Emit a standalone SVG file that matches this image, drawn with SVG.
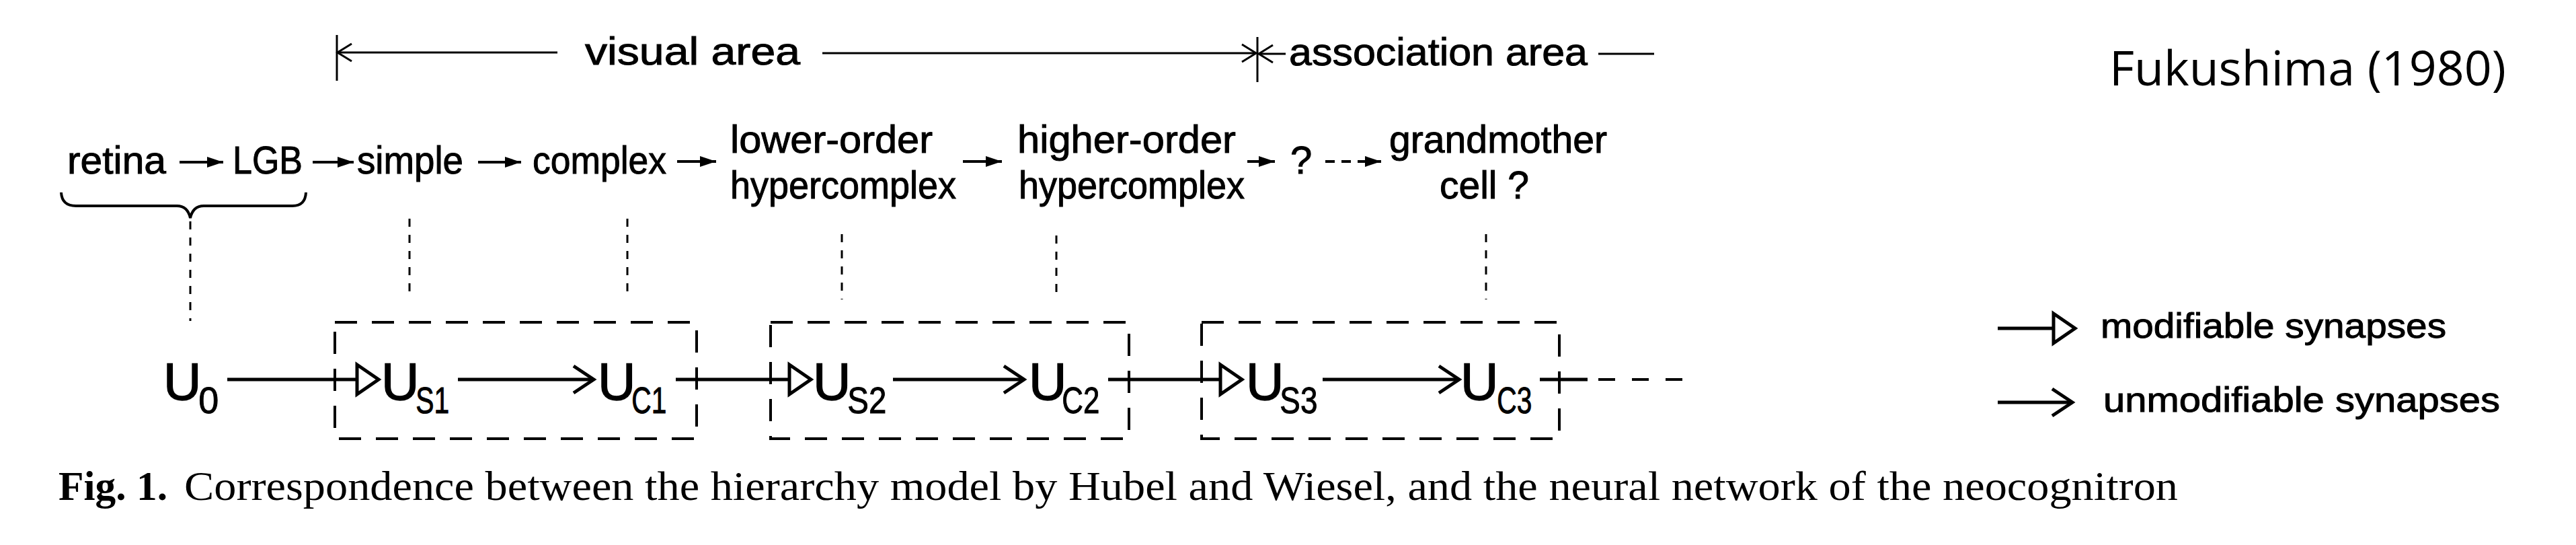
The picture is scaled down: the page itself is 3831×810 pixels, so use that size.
<svg xmlns="http://www.w3.org/2000/svg" width="3831" height="810" viewBox="0 0 3831 810">
<style>
.lbl{font-family:"Liberation Sans",Arial,sans-serif;font-size:58px;fill:#000;stroke:#000;stroke-width:1}
.leg{font-family:"Liberation Sans",Arial,sans-serif;font-size:52px;fill:#000;stroke:#000;stroke-width:1}
.u{font-family:"Liberation Sans",Arial,sans-serif;font-size:78px;fill:#000;stroke:#000;stroke-width:1.5}
.sub{font-size:56px;stroke-width:1}
.cap{font-family:"Liberation Serif","Times New Roman",serif;font-size:62px;fill:#000}
.title{font-family:"Open Sans","Liberation Sans",sans-serif;font-size:72px;fill:#000}
.box{fill:none;stroke:#000;stroke-width:4;stroke-dasharray:33 22}
.dot{fill:none;stroke:#000;stroke-width:3;stroke-dasharray:12 12}
.thin{fill:none;stroke:#000;stroke-width:3}
.small{fill:none;stroke:#000;stroke-width:4}
.main{fill:none;stroke:#000;stroke-width:5}
</style>
<defs>
<marker id="fill" markerUnits="userSpaceOnUse" markerWidth="26" markerHeight="18" refX="24" refY="9" orient="auto" viewBox="0 0 26 18">
<path d="M0,1 L24,9 L0,17 Z" fill="#000"/>
</marker>
<marker id="tri" markerUnits="userSpaceOnUse" markerWidth="44" markerHeight="54" refX="36" refY="27" orient="auto" viewBox="0 0 44 54">
<path d="M4,5 L36,27 L4,49 Z" fill="#fff" stroke="#000" stroke-width="5" stroke-linejoin="miter"/>
</marker>
<marker id="chev" markerUnits="userSpaceOnUse" markerWidth="40" markerHeight="50" refX="34" refY="25" orient="auto" viewBox="0 0 40 50">
<path d="M4,5 L34,25 L4,45" fill="none" stroke="#000" stroke-width="5"/>
</marker>
<marker id="vee" markerUnits="userSpaceOnUse" markerWidth="28" markerHeight="32" refX="24" refY="16" orient="auto" viewBox="0 0 28 32">
<path d="M3,3 L24,16 L3,29" fill="none" stroke="#000" stroke-width="3"/>
</marker>
</defs>
<rect width="3831" height="810" fill="#fff"/>

<g id="title"><text class="title" x="3137" y="127" textLength="590" lengthAdjust="spacingAndGlyphs">Fukushima (1980)</text></g>

<g id="area-labels">
<text class="lbl" x="870" y="96" textLength="320" lengthAdjust="spacingAndGlyphs">visual area</text>
<text class="lbl" x="1917" y="97" textLength="444" lengthAdjust="spacingAndGlyphs">association area</text>
</g>

<g id="node-retina"><text class="lbl" x="100" y="258" textLength="147" lengthAdjust="spacingAndGlyphs">retina</text></g>
<g id="node-lgb"><text class="lbl" x="346" y="258" textLength="104" lengthAdjust="spacingAndGlyphs">LGB</text></g>
<g id="node-simple"><text class="lbl" x="531" y="258" textLength="158" lengthAdjust="spacingAndGlyphs">simple</text></g>
<g id="node-complex"><text class="lbl" x="792" y="258" textLength="199" lengthAdjust="spacingAndGlyphs">complex</text></g>
<g id="node-lower"><text class="lbl" x="1086" y="227" textLength="301" lengthAdjust="spacingAndGlyphs">lower-order</text><text class="lbl" x="1086" y="295" textLength="336" lengthAdjust="spacingAndGlyphs">hypercomplex</text></g>
<g id="node-higher"><text class="lbl" x="1513" y="227" textLength="325" lengthAdjust="spacingAndGlyphs">higher-order</text><text class="lbl" x="1515" y="295" textLength="336" lengthAdjust="spacingAndGlyphs">hypercomplex</text></g>
<g id="node-q"><text class="lbl" x="1919" y="258">?</text></g>
<g id="node-grandmother"><text class="lbl" x="2066" y="227" textLength="324" lengthAdjust="spacingAndGlyphs">grandmother</text><text class="lbl" x="2141" y="295" textLength="133" lengthAdjust="spacingAndGlyphs">cell ?</text></g>

<g id="box-1"><rect class="box" x="498" y="479" width="538" height="173"/></g>
<g id="box-2"><rect class="box" x="1146" y="479" width="533" height="173"/></g>
<g id="box-3"><rect class="box" x="1787" y="479" width="532" height="173"/></g>

<g id="node-U0"><text class="u" x="243" y="594">U<tspan class="sub" dx="-4" dy="20" textLength="30" lengthAdjust="spacingAndGlyphs">0</tspan></text></g>
<g id="node-US1"><text class="u" x="567" y="594">U<tspan class="sub" dx="-5" dy="20" textLength="50" lengthAdjust="spacingAndGlyphs">S1</tspan></text></g>
<g id="node-UC1"><text class="u" x="889" y="594">U<tspan class="sub" dx="-6" dy="20" textLength="52" lengthAdjust="spacingAndGlyphs">C1</tspan></text></g>
<g id="node-US2"><text class="u" x="1209" y="594">U<tspan class="sub" dx="-5" dy="20" textLength="58" lengthAdjust="spacingAndGlyphs">S2</tspan></text></g>
<g id="node-UC2"><text class="u" x="1530" y="594">U<tspan class="sub" dx="-7" dy="20" textLength="56" lengthAdjust="spacingAndGlyphs">C2</tspan></text></g>
<g id="node-US3"><text class="u" x="1853" y="594">U<tspan class="sub" dx="-6" dy="20" textLength="56" lengthAdjust="spacingAndGlyphs">S3</tspan></text></g>
<g id="node-UC3"><text class="u" x="2172" y="594">U<tspan class="sub" dx="-2" dy="20" textLength="52" lengthAdjust="spacingAndGlyphs">C3</tspan></text></g>

<g id="connectors">
<line class="thin" x1="501" y1="52" x2="501" y2="120"/>
<line class="thin" x1="829" y1="78" x2="502" y2="78" marker-end="url(#vee)"/>
<line class="thin" x1="1223" y1="79" x2="1868" y2="79" marker-end="url(#vee)"/>
<line class="thin" x1="1870" y1="55" x2="1870" y2="122"/>
<line class="thin" x1="1912" y1="80" x2="1872" y2="80" marker-end="url(#vee)"/>
<line class="thin" x1="2377" y1="80" x2="2460" y2="80"/>
<line class="small" x1="267" y1="241" x2="332" y2="241" marker-end="url(#fill)"/>
<line class="small" x1="465" y1="241" x2="526" y2="241" marker-end="url(#fill)"/>
<line class="small" x1="711" y1="241" x2="775" y2="241" marker-end="url(#fill)"/>
<line class="small" x1="1007" y1="240" x2="1065" y2="240" marker-end="url(#fill)"/>
<line class="small" x1="1432" y1="240" x2="1490" y2="240" marker-end="url(#fill)"/>
<line class="small" x1="1855" y1="240" x2="1896" y2="240" marker-end="url(#fill)"/>
<line class="small" x1="1971" y1="240" x2="2054" y2="240" stroke-dasharray="14 10" marker-end="url(#fill)"/>
<path class="small" d="M91,286 Q92,306 113,306 L263,306 Q279,306 283,324 Q287,306 303,306 L435,306 Q454,306 455,286"/>
<line class="dot" x1="283" y1="329" x2="283" y2="477"/>
<line class="dot" x1="609" y1="325" x2="609" y2="443"/>
<line class="dot" x1="933" y1="325" x2="933" y2="445"/>
<line class="dot" x1="1252" y1="348" x2="1252" y2="445"/>
<line class="dot" x1="1571" y1="350" x2="1571" y2="445"/>
<line class="dot" x1="2210" y1="348" x2="2210" y2="445"/>
<line class="main" x1="338" y1="564" x2="563" y2="564" marker-end="url(#tri)"/>
<line class="main" x1="681" y1="564" x2="883" y2="564" marker-end="url(#chev)"/>
<line class="main" x1="1005" y1="564" x2="1206" y2="564" marker-end="url(#tri)"/>
<line class="main" x1="1328" y1="564" x2="1523" y2="564" marker-end="url(#chev)"/>
<line class="main" x1="1648" y1="564" x2="1847" y2="564" marker-end="url(#tri)"/>
<line class="main" x1="1967" y1="564" x2="2170" y2="564" marker-end="url(#chev)"/>
<line class="main" x1="2290" y1="564" x2="2361" y2="564"/>
<line class="small" x1="2377" y1="564" x2="2504" y2="564" stroke-dasharray="25 25"/>
</g>

<g id="legend">
<line class="main" x1="2971" y1="488" x2="3086" y2="488" marker-end="url(#tri)"/>
<text class="leg" x="3124" y="502" textLength="514" lengthAdjust="spacingAndGlyphs">modifiable synapses</text>
<line class="main" x1="2971" y1="598" x2="3082" y2="598" marker-end="url(#chev)"/>
<text class="leg" x="3128" y="612" textLength="590" lengthAdjust="spacingAndGlyphs">unmodifiable synapses</text>
</g>

<g id="caption">
<text class="cap" x="87" y="743" font-weight="bold" textLength="162" lengthAdjust="spacingAndGlyphs">Fig. 1.</text>
<text class="cap" x="274" y="743" textLength="2965" lengthAdjust="spacingAndGlyphs">Correspondence between the hierarchy model by Hubel and Wiesel, and the neural network of the neocognitron</text>
</g>
</svg>
